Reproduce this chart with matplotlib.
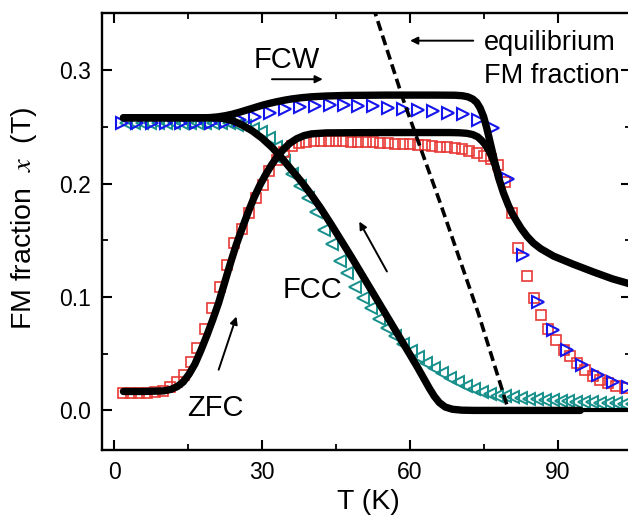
import numpy as np
import matplotlib
matplotlib.use("Agg")
import matplotlib.pyplot as plt

plt.rcParams['font.family'] = ['Liberation Sans', 'DejaVu Sans']
plt.rcParams['mathtext.fontset'] = 'stix'

# FCW data (blue right triangles)
T_fcw = [1.6, 4.6, 7.6, 10.6, 13.6, 16.6, 19.6, 22.6, 25.5, 28.5, 31.6, 34.7, 37.7,
         40.7, 43.8, 46.6, 49.5, 52.5, 55.5, 58.6, 61.6, 64.7, 67.7, 70.7, 73.7,
         76.8, 79.9, 82.9, 86.0, 89.0, 91.8, 94.9, 98.0, 101.2, 104.2]
x_fcw = [0.2537, 0.2537, 0.2537, 0.2537, 0.2537, 0.2537, 0.2538, 0.2545, 0.256, 0.259,
         0.262, 0.266, 0.2676, 0.2685, 0.2693, 0.2693, 0.268, 0.268, 0.2667, 0.266,
         0.265, 0.2643, 0.2626, 0.261, 0.256, 0.249, 0.204, 0.137, 0.096, 0.0705,
         0.0535, 0.040, 0.0315, 0.0247, 0.021]

# ZFC data (red squares)
T_zfc = [1.9, 3.5, 5.1, 6.7, 8.3, 9.9, 11.3, 12.7, 14.1, 15.5, 16.9, 18.4, 19.9,
         21.4, 22.9, 24.4, 25.9, 27.3, 28.7, 30.1, 31.5, 33.0, 34.5, 36.0, 37.5,
         39.0, 40.5, 42.0, 43.5, 45.0, 46.5, 48.0, 49.5, 51.0, 52.5, 54.0, 55.5,
         57.0, 58.5, 60.0, 61.5, 63.0, 64.5, 66.0, 67.5, 69.0, 70.5, 72.0, 73.5,
         75.0, 76.4, 77.8, 79.3, 80.6, 81.9, 83.6, 85.1, 86.5, 88.0, 89.6, 91.1,
         92.5, 93.9, 95.5, 97.0, 98.5, 100.1, 101.8, 103.5]
x_zfc = [0.0155, 0.0155, 0.0155, 0.0155, 0.0158, 0.017, 0.0205, 0.025, 0.031, 0.043,
         0.055, 0.072, 0.090, 0.109, 0.128, 0.148, 0.160, 0.174, 0.187, 0.199, 0.211,
         0.221, 0.228, 0.233, 0.2355, 0.237, 0.2372, 0.2373, 0.2373, 0.2373, 0.2372,
         0.237, 0.2368, 0.2366, 0.2363, 0.236, 0.2357, 0.2353, 0.235, 0.2346, 0.2342,
         0.2337, 0.2332, 0.2326, 0.232, 0.2312, 0.2303, 0.229, 0.2272, 0.2245, 0.2215,
         0.2165, 0.2018, 0.174, 0.143, 0.1187, 0.099, 0.0843, 0.0717, 0.0623, 0.0535,
         0.0476, 0.0418, 0.0359, 0.0306, 0.027, 0.0241, 0.0211, 0.020]

# FCC data (teal left triangles)
T_fcc = [2.5, 4.1, 5.7, 7.3, 8.9, 10.5, 12.1, 13.7, 15.3, 16.9, 18.5, 20.1, 21.7,
         23.3, 24.9, 26.5, 28.1, 29.7, 31.3, 32.9, 34.5, 36.1, 37.7, 39.3, 40.9,
         42.5, 44.1, 45.7, 47.3, 48.9, 50.5, 52.1, 53.7, 55.3, 56.9, 58.5, 60.1,
         61.7, 63.3, 64.9, 66.5, 68.1, 69.7, 71.3, 72.9, 74.5, 76.1, 77.7, 79.3,
         80.9, 82.5, 84.1, 85.7, 87.3, 88.9, 90.5, 92.1, 93.7, 95.3, 96.9, 98.5,
         100.1, 101.7, 103.3, 104.9]
x_fcc = [0.2532, 0.2532, 0.2532, 0.2532, 0.2532, 0.2532, 0.2532, 0.2532, 0.2532,
         0.2532, 0.2532, 0.2532, 0.2532, 0.253, 0.252, 0.2505, 0.2485, 0.2455,
         0.2405, 0.232, 0.2195, 0.2085, 0.1975, 0.187, 0.1745, 0.159, 0.147, 0.132,
         0.121, 0.109, 0.099, 0.0905, 0.081, 0.0726, 0.0655, 0.0588, 0.0527, 0.047,
         0.0415, 0.037, 0.033, 0.029, 0.0252, 0.0218, 0.0185, 0.016, 0.0142, 0.013,
         0.0123, 0.0115, 0.0108, 0.0102, 0.0097, 0.0092, 0.0088, 0.0083, 0.008,
         0.0076, 0.0073, 0.007, 0.0067, 0.0065, 0.0062, 0.006, 0.0058]

# model curves (thick black)
T_fcw_fit = [1.9, 8, 14, 18, 19.5, 21, 22.5, 24, 25.5, 27, 28.5, 30, 31.5, 33, 34.5,
             36, 38, 40, 43, 47, 55, 65, 69, 70.5, 71.7, 72.7, 73.5, 74.2, 74.9, 75.5,
             76.0, 77.0, 77.9, 78.9, 79.9, 80.7, 81.5, 82.5, 83.7, 85, 86.5, 89.1, 93,
             97.2, 101, 104.2, 106]
x_fcw_fit = [0.258, 0.258, 0.258, 0.258, 0.2582, 0.2588, 0.2598, 0.2612, 0.263, 0.265,
             0.267, 0.269, 0.2707, 0.2722, 0.2735, 0.2746, 0.2757, 0.2765, 0.2772,
             0.2777, 0.278, 0.278, 0.2779, 0.2775, 0.2765, 0.2745, 0.2715, 0.2665,
             0.259, 0.2495, 0.2405, 0.222, 0.2055, 0.192, 0.181, 0.1735, 0.1675,
             0.1605, 0.1535, 0.1475, 0.1425, 0.136, 0.129, 0.122, 0.116, 0.112, 0.109]

T_fcc_fit = [1.9, 10, 18, 20, 22, 24, 26, 28, 30, 32, 34, 36, 38, 40, 42, 44, 46, 48,
             50, 52, 54, 56, 58, 60, 61.5, 62.8, 63.9, 64.9, 65.9, 67.1, 68.6, 70.5,
             73, 80, 94.5]
x_fcc_fit = [0.258, 0.258, 0.258, 0.2579, 0.2575, 0.2555, 0.2515, 0.2465, 0.240,
             0.232, 0.2225, 0.212, 0.2015, 0.190, 0.1775, 0.164, 0.150, 0.136, 0.1215,
             0.107, 0.0925, 0.078, 0.0635, 0.049, 0.038, 0.028, 0.0195, 0.0125, 0.007,
             0.003, 0.001, 0.0002, 0.0, 0.0, 0.0]

T_zfc_fit = [1.9, 6, 10, 11.5, 12.8, 14.0, 15.2, 16.4, 17.6, 18.8, 20.0, 21.2, 22.4,
             23.6, 24.8, 26.0, 27.2, 28.4, 29.6, 30.8, 32.0, 33.2, 34.4, 35.6, 37.0,
             38.5, 40, 43, 50, 60, 68, 70, 71.5, 72.7, 73.7, 74.5, 75.2, 75.9, 76.6,
             77.3, 77.9]
x_zfc_fit = [0.0167, 0.0167, 0.0172, 0.0185, 0.021, 0.025, 0.032, 0.041, 0.053, 0.066,
             0.080, 0.095, 0.1125, 0.130, 0.1465, 0.161, 0.175, 0.188, 0.199, 0.2085,
             0.217, 0.2245, 0.2305, 0.2355, 0.2395, 0.2423, 0.2438, 0.2447, 0.2449,
             0.2450, 0.2450, 0.2448, 0.2443, 0.2432, 0.2412, 0.238, 0.2345, 0.2295,
             0.2235, 0.2155, 0.2075]

T_tail = [94, 106]
x_tail = [0.0, 0.0]

# equilibrium FM fraction (dashed)
T_eq = [52.5, 58.6, 66.1, 73.8, 79.6]
x_eq = [0.356, 0.274, 0.183, 0.086, 0.005]

fig = plt.figure(figsize=(6.28, 5.15), dpi=100)
ax = fig.add_axes([0.162, 0.126, 0.843, 0.849])

ax.plot(T_fcc, x_fcc, ls='none', marker='<', ms=8, mfc='none', mec='#17908c', mew=1.4, zorder=2)
ax.plot(T_zfc, x_zfc, ls='none', marker='s', ms=6.5, mfc='none', mec='#e83a35', mew=1.2, zorder=2)
ax.plot(T_fcw, x_fcw, ls='none', marker='>', ms=8, mfc='none', mec='#1515ee', mew=1.5, zorder=2)

for T, x in [(T_fcw_fit, x_fcw_fit), (T_fcc_fit, x_fcc_fit), (T_zfc_fit, x_zfc_fit)]:
    ax.plot(T, x, color='k', lw=5.3, solid_capstyle='round', solid_joinstyle='round', zorder=3)
ax.plot(T_tail, x_tail, color='k', lw=3, zorder=3)
ax.plot(T_eq, x_eq, color='k', lw=2.6, dashes=(2.8, 1.4), zorder=4)

ax.set_xlim(-2.5, 104.8)
ax.set_ylim(-0.035, 0.3505)
ax.set_xticks([0, 30, 60, 90])
ax.set_xticks([15, 45, 75], minor=True)
ax.set_yticks([0.0, 0.1, 0.2, 0.3])
ax.set_yticklabels(['0.0', '0.1', '0.2', '0.3'])
ax.set_yticks([0.05, 0.15, 0.25], minor=True)
ax.tick_params(which='both', direction='in', top=True, right=True, labelsize=16.5)
ax.tick_params(which='major', length=7, width=1.5, pad=8)
ax.tick_params(which='minor', length=4, width=1.3)
for s in ax.spines.values():
    s.set_linewidth(1.7)

fig.text(368 / 628, 0.0117, 'T (K)', fontsize=20.5, ha='center', va='baseline')
fig.text(24 / 628, 0.5757, r'FM fraction  $x$  (T)', fontsize=20.5, rotation=90,
         ha='center', va='center')

ax.text(35.0, 0.3017, 'FCW', fontsize=21, ha='center', va='baseline')
ax.text(20.6, -0.0053, 'ZFC', fontsize=21, ha='center', va='baseline')
ax.text(40.2, 0.099, 'FCC', fontsize=21, ha='center', va='baseline')
ax.text(74.9, 0.3178, 'equilibrium', fontsize=19.5, ha='left', va='baseline')
ax.text(74.9, 0.289, 'FM fraction', fontsize=19.5, ha='left', va='baseline')

arrow = dict(arrowstyle='-|>', lw=1.4, color='k', mutation_scale=11, shrinkA=0, shrinkB=0)
ax.annotate('', xy=(42.3, 0.292), xytext=(32.0, 0.292), arrowprops=arrow)
ax.annotate('', xy=(60.0, 0.326), xytext=(72.8, 0.326), arrowprops=arrow)
ax.annotate('', xy=(24.8, 0.0828), xytext=(21.2, 0.0359), arrowprops=arrow)
ax.annotate('', xy=(49.7, 0.1665), xytext=(55.3, 0.1225), arrowprops=arrow)

fig.savefig('out.png', dpi=100)
